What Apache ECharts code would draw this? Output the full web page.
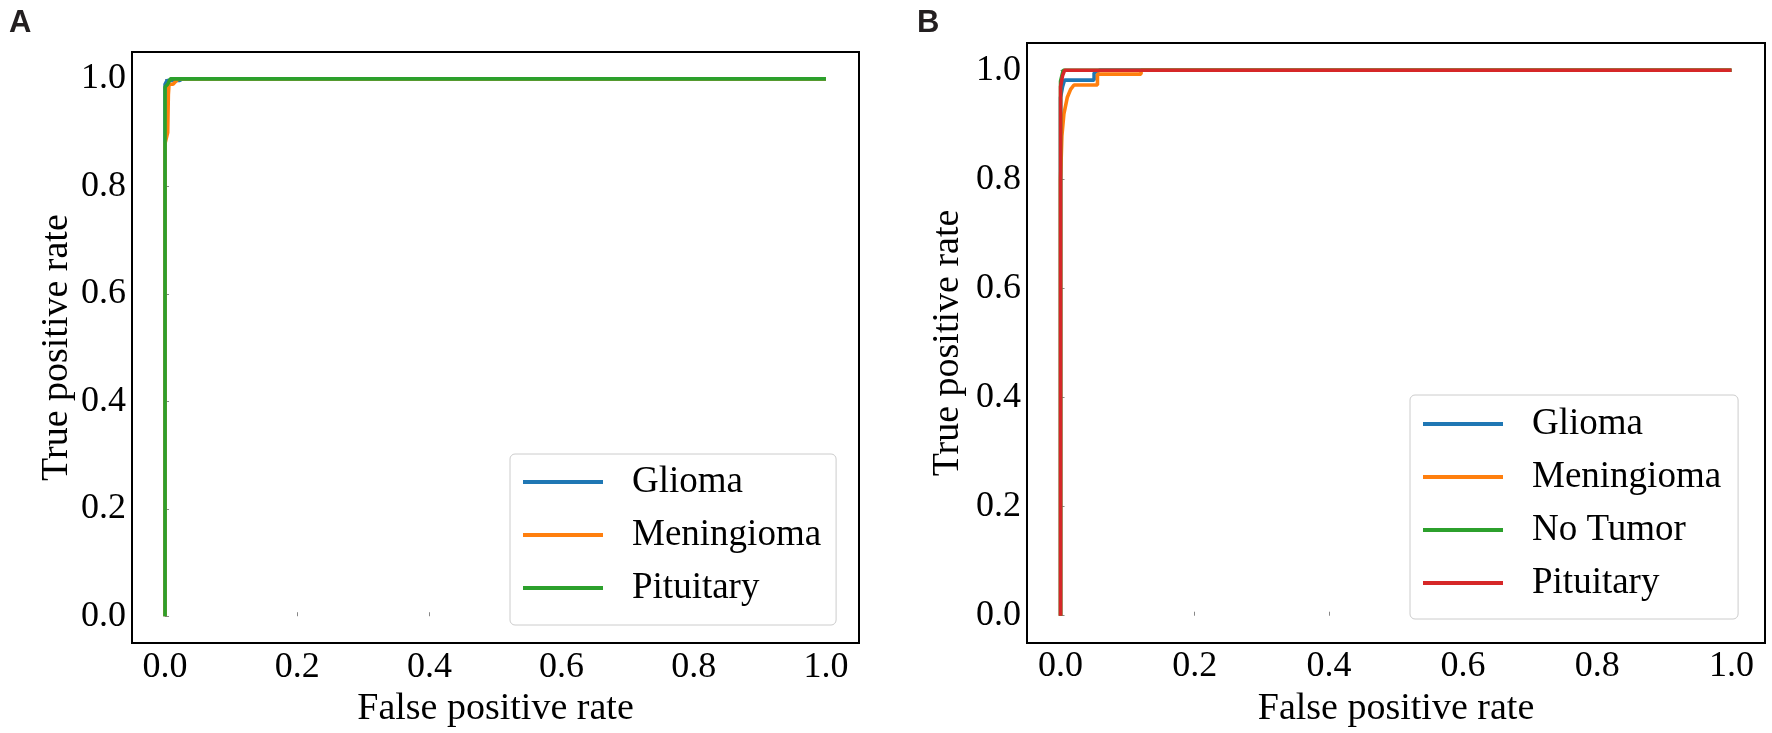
<!DOCTYPE html>
<html>
<head>
<meta charset="utf-8">
<script src="https://cdn.jsdelivr.net/npm/echarts@6.0.0/dist/echarts.min.js"></script>
<style>
    html, body { margin: 0; padding: 0; background: #fff; }
    #main { width: 1772px; height: 733px; }
</style>
</head>
<body>
<div id="main"></div>
<script>
// 刻度
let tickValues = [0, 0.2, 0.4, 0.6, 0.8, 1.0];

// A 图：三分类 ROC
let namesA = ['Glioma', 'Meningioma', 'Pituitary'];
let gliomaA_fpr = [0, 0, 0.003, 0.022, 0.026, 1];
let gliomaA_tpr = [0, 0.99, 0.997, 0.997, 1, 1];
let meningiomaA_fpr = [0, 0, 0.004, 0.005, 0.006, 0.012, 0.016, 0.02, 1];
let meningiomaA_tpr = [0, 0.88, 0.9, 0.97, 0.99, 0.99, 0.995, 1, 1];
let pituitaryA_fpr = [0, 0, 0.004, 0.008, 1];
let pituitaryA_tpr = [0, 0.985, 0.99, 1, 1];

// B 图：四分类 ROC
let namesB = ['Glioma', 'Meningioma', 'No Tumor', 'Pituitary'];
let gliomaB_fpr = [0, 0, 0.003, 0.006, 0.05, 0.05, 0.058, 1];
let gliomaB_tpr = [0, 0.95, 0.97, 0.982, 0.982, 0.995, 1, 1];
let meningiomaB_fpr = [0, 0, 0.002, 0.005, 0.01, 0.015, 0.02, 0.055, 0.055, 0.12, 0.12, 1];
let meningiomaB_tpr = [0, 0.8, 0.88, 0.92, 0.95, 0.965, 0.973, 0.973, 0.993, 0.993, 1, 1];
let noTumorB_fpr = [0, 0, 0.002, 0.004, 1];
let noTumorB_tpr = [0, 0.98, 0.99, 1, 1];
let pituitaryB_fpr = [0, 0, 0.003, 0.006, 1];
let pituitaryB_tpr = [0, 0.97, 0.99, 1, 1];

let colorsA = ['#1f77b4', '#ff7f0e', '#2ca02c'];
let colorsB = ['#1f77b4', '#ff7f0e', '#2ca02c', '#d62728'];

let serif = 'Liberation Serif';

function pairs(xs, ys) {
    let out = [];
    for (let i = 0; i < xs.length; i++) {
        out.push([xs[i], ys[i]]);
    }
    return out;
}

function makeAxis(gridIndex, isX, nameGap) {
    return {
        type: 'value',
        gridIndex: gridIndex,
        min: -0.05,
        max: 1.05,
        name: isX ? 'False positive rate' : 'True positive rate',
        nameLocation: 'middle',
        nameGap: nameGap,
        nameTextStyle: { fontFamily: serif, fontSize: 38, color: '#000' },
        axisLine: { show: false },
        splitLine: { show: false },
        axisTick: {
            show: true,
            inside: true,
            length: 4,
            customValues: tickValues,
            lineStyle: { color: '#888', width: 1 }
        },
        axisLabel: {
            customValues: tickValues,
            margin: 6,
            fontFamily: serif,
            fontSize: 36,
            color: '#000',
            formatter: function (v) { return v.toFixed(1); }
        }
    };
}

function makeSeries(name, data, color, gridIndex) {
    return {
        name: name,
        type: 'line',
        xAxisIndex: gridIndex,
        yAxisIndex: gridIndex,
        data: data,
        symbol: 'none',
        silent: true,
        animation: false,
        lineStyle: { width: 3.6, color: color },
        itemStyle: { color: color }
    };
}

function makeLegend(names, colors, left, top, padding) {
    return {
        data: names.map(function (n, i) {
            return { name: n, icon: 'rect', itemStyle: { color: colors[i] }, lineStyle: { color: colors[i] } };
        }),
        orient: 'vertical',
        left: left,
        top: top,
        padding: padding,
        itemWidth: 80,
        itemHeight: 4,
        itemGap: 13,
        selectedMode: false,
        backgroundColor: '#fff',
        borderColor: '#cccccc',
        borderWidth: 1,
        borderRadius: 5,
        textStyle: { fontFamily: serif, fontSize: 37, color: '#000', lineHeight: 40, padding: [0, 0, 0, 24] }
    };
}

let myChart = echarts.init(document.getElementById('main'));
let option = {
    backgroundColor: '#fff',
    animation: false,
    grid: [
        { left: 132, top: 52, width: 727, height: 592, show: true, borderColor: '#000', borderWidth: 2, backgroundColor: 'transparent' },
        { left: 1027, top: 43, width: 738, height: 600, show: true, borderColor: '#000', borderWidth: 2, backgroundColor: 'transparent' }
    ],
    xAxis: [makeAxis(0, true, 33), makeAxis(1, true, 41)],
    yAxis: [makeAxis(0, false, 56), makeAxis(1, false, 60)],
    legend: [
        makeLegend(namesA, colorsA, 510, 454, [8, 15, 17, 13]),
        makeLegend(namesB, colorsB, 1410, 395, [9, 17, 16, 13])
    ],
    graphic: [
        { type: 'text', left: 9, top: 8, style: { text: 'A', fontFamily: 'Liberation Sans', fontWeight: 'bold', fontSize: 31, fill: '#231f20' } },
        { type: 'text', left: 917, top: 8, style: { text: 'B', fontFamily: 'Liberation Sans', fontWeight: 'bold', fontSize: 31, fill: '#231f20' } }
    ],
    series: [
        makeSeries('Glioma', pairs(gliomaA_fpr, gliomaA_tpr), colorsA[0], 0),
        makeSeries('Meningioma', pairs(meningiomaA_fpr, meningiomaA_tpr), colorsA[1], 0),
        makeSeries('Pituitary', pairs(pituitaryA_fpr, pituitaryA_tpr), colorsA[2], 0),
        makeSeries('Glioma', pairs(gliomaB_fpr, gliomaB_tpr), colorsB[0], 1),
        makeSeries('Meningioma', pairs(meningiomaB_fpr, meningiomaB_tpr), colorsB[1], 1),
        makeSeries('No Tumor', pairs(noTumorB_fpr, noTumorB_tpr), colorsB[2], 1),
        makeSeries('Pituitary', pairs(pituitaryB_fpr, pituitaryB_tpr), colorsB[3], 1)
    ]
};
myChart.setOption(option);
</script>
</body>
</html>
